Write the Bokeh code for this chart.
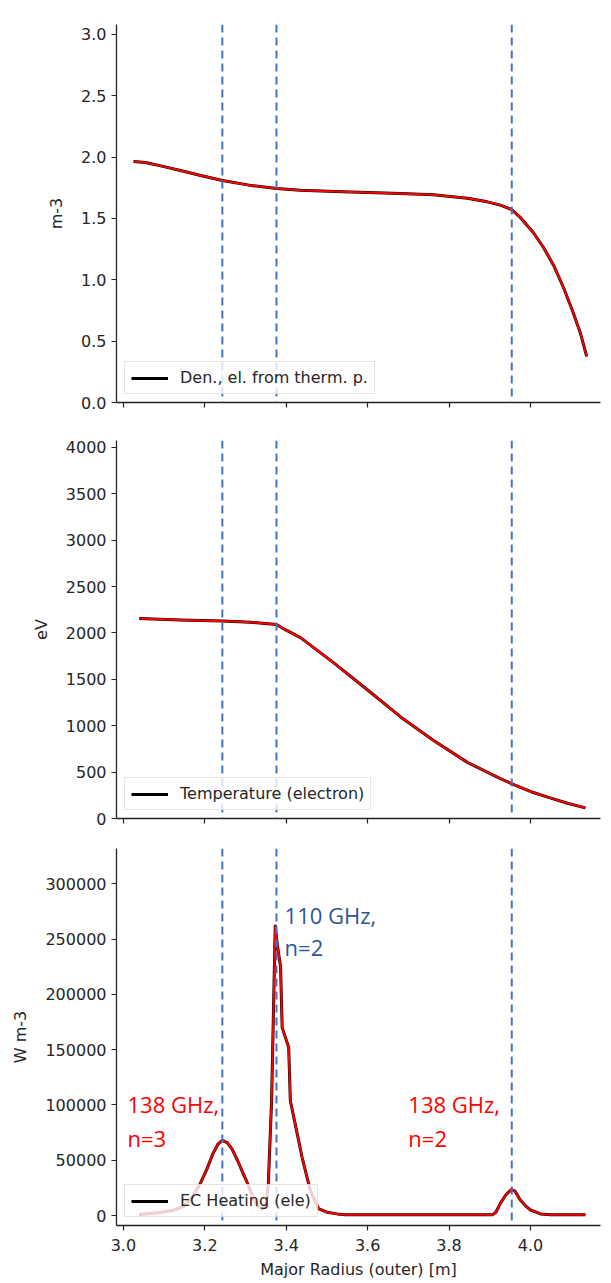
from bokeh.plotting import figure
from bokeh.layouts import column
from bokeh.models import (Range1d, Span, Label, Legend, LegendItem,
                          FixedTicker, PrintfTickFormatter, CustomJSTickFormatter)
from bokeh.embed import file_html
from bokeh.resources import INLINE

# ---------------- data ----------------
radius_density = [3.025, 3.054, 3.100, 3.140, 3.190, 3.243, 3.312, 3.376, 3.435,
                  3.520, 3.600, 3.680, 3.762, 3.845, 3.894, 3.926, 3.953, 3.975,
                  4.007, 4.032, 4.057, 4.081, 4.103, 4.123, 4.138]
density_1e19 = [1.964, 1.956, 1.922, 1.891, 1.850, 1.809, 1.769, 1.744, 1.730,
                1.720, 1.711, 1.703, 1.693, 1.665, 1.635, 1.608, 1.573, 1.508,
                1.385, 1.263, 1.117, 0.937, 0.750, 0.562, 0.375]

radius_temp = [3.039, 3.140, 3.243, 3.312, 3.376, 3.400, 3.435, 3.516, 3.600,
               3.681, 3.762, 3.845, 3.926, 3.953, 4.007, 4.050, 4.091, 4.135]
temperature_ev = [2155, 2140, 2130, 2115, 2092, 2030, 1950, 1680, 1385,
                  1095, 840, 605, 430, 377, 280, 220, 165, 115]

radius_ech = [3.039, 3.091, 3.120, 3.147, 3.170, 3.189, 3.205, 3.220, 3.232,
              3.243, 3.255, 3.267, 3.280, 3.293, 3.305, 3.317, 3.329, 3.340,
              3.350, 3.356, 3.364, 3.373, 3.378, 3.386, 3.390, 3.406, 3.410,
              3.427, 3.439, 3.459, 3.479, 3.500, 3.525, 3.545, 3.700, 3.907,
              3.915, 3.926, 3.940, 3.953, 3.962, 3.975, 3.990, 4.000, 4.025,
              4.050, 4.135]
ech_power = [1000, 2700, 4500, 8000, 17000, 29000, 42000, 56000, 64500,
             68000, 66000, 60000, 50000, 39000, 29000, 18000, 9000, 6000,
             8000, 29000, 104000, 262000, 245000, 225000, 170000, 152000, 104000,
             74000, 52500, 22700, 6300, 3000, 1500, 800, 800, 800,
             3000, 11000, 19000, 23500, 22000, 14000, 8000, 5000, 1500,
             800, 800]

resonance_radius = [3.243, 3.376, 3.954]

x_ticks = [3.0, 3.2, 3.4, 3.6, 3.8, 4.0]
density_ticks = [0.0, 0.5, 1.0, 1.5, 2.0, 2.5, 3.0]
temp_ticks = [0, 500, 1000, 1500, 2000, 2500, 3000, 3500, 4000]
ech_ticks = [0, 50000, 100000, 150000, 200000, 250000, 300000]

legend_labels = ["Den., el. from therm. p.", "Temperature (electron)", "EC Heating (ele)"]
y_labels = ["m-3", "eV", "W m-3"]
x_label = "Major Radius (outer) [m]"

# ---------------- styling ----------------
FONT = "DejaVu Sans"
TXT = "#262626"
DASH_COLOR = "#4472C4"
x_range = Range1d(2.983, 4.172)


def make_fig(height, yr, top, bottom, yticks, yfmt, ylabel, show_x):
    p = figure(width=608, height=height, x_range=x_range, y_range=yr,
               output_backend="svg", toolbar_location=None,
               min_border_left=116, min_border_right=8,
               min_border_top=top, min_border_bottom=bottom)
    p.xgrid.grid_line_color = None
    p.ygrid.grid_line_color = None
    p.outline_line_color = None
    for ax in (p.xaxis[0], p.yaxis[0]):
        ax.axis_line_color = "#222222"
        ax.axis_line_width = 1.3
        ax.major_tick_line_color = "#222222"
        ax.major_tick_line_width = 1.2
        ax.major_tick_out = 5
        ax.major_tick_in = 0
        ax.minor_tick_out = 0
        ax.minor_tick_in = 0
        ax.major_label_text_font = FONT
        ax.major_label_text_font_size = "16px"
        ax.major_label_text_color = TXT
        ax.axis_label_text_font = FONT
        ax.axis_label_text_font_size = "16px"
        ax.axis_label_text_font_style = "normal"
        ax.axis_label_text_color = TXT
    p.xaxis.ticker = FixedTicker(ticks=x_ticks)
    p.yaxis.ticker = FixedTicker(ticks=yticks)
    p.yaxis.formatter = PrintfTickFormatter(format=yfmt)
    p.yaxis.axis_label = ylabel
    p.yaxis.axis_label_standoff = 12
    p.yaxis.major_label_standoff = 5
    if show_x:
        p.xaxis.formatter = PrintfTickFormatter(format="%.1f")
        p.xaxis.axis_label = x_label
        p.xaxis.axis_label_standoff = 6
        p.xaxis.major_label_standoff = 8
    else:
        p.xaxis.formatter = CustomJSTickFormatter(code="return '';")
        p.xaxis.major_label_standoff = 0
    for r in resonance_radius:
        p.add_layout(Span(location=r, dimension="height", line_color=DASH_COLOR,
                          line_width=2, line_dash="8 5"))
    return p


def add_curve(p, xs, ys, label):
    blk = p.line(xs, ys, line_color="black", line_width=3, line_join="round")
    p.line(xs, ys, line_color="#FF0000", line_width=2, line_join="round")
    lg = Legend(items=[LegendItem(label=label, renderers=[blk])],
                location="bottom_left", margin=8, padding=6, spacing=0,
                label_standoff=12, glyph_width=37, glyph_height=18,
                label_text_font=FONT, label_text_font_size="16px",
                label_text_color=TXT, border_line_color="#cccccc",
                border_line_width=1, background_fill_alpha=0.8)
    p.add_layout(lg)


# top: density
p1 = make_fig(418, Range1d(0, 3.08), 24, 16, density_ticks, "%.1f", y_labels[0], False)
add_curve(p1, radius_density, density_1e19, legend_labels[0])
p1.add_layout(Label(x=2.983, y=3.08, y_offset=3, text="1e19", text_font=FONT,
                    text_font_size="16px", text_color=TXT, text_baseline="bottom"))

# middle: temperature
p2 = make_fig(416, Range1d(0, 4075), 22, 16, temp_ticks, "%d", y_labels[1], False)
add_curve(p2, radius_temp, temperature_ev, legend_labels[1])

# bottom: EC heating
p3 = make_fig(448, Range1d(-9000, 332000), 14, 57, ech_ticks, "%d", y_labels[2], True)
add_curve(p3, radius_ech, ech_power, legend_labels[2])

ANN_FONT = "Open Sans"
for (x, y, t, c) in [(3.010, 100600, "138 GHz,", "#FF0000"), (3.010, 69800, "n=3", "#FF0000"),
                     (3.396, 272000, "110 GHz,", "#2F5597"), (3.396, 243000, "n=2", "#2F5597"),
                     (3.700, 100600, "138 GHz,", "#FF0000"), (3.700, 69800, "n=2", "#FF0000")]:
    p3.add_layout(Label(x=x, y=y, text=t, text_color=c, text_font=ANN_FONT,
                        text_font_size="22px", text_baseline="alphabetic"))

layout = column(p1, p2, p3, spacing=0)
open("out.html", "w").write(file_html(layout, INLINE))
